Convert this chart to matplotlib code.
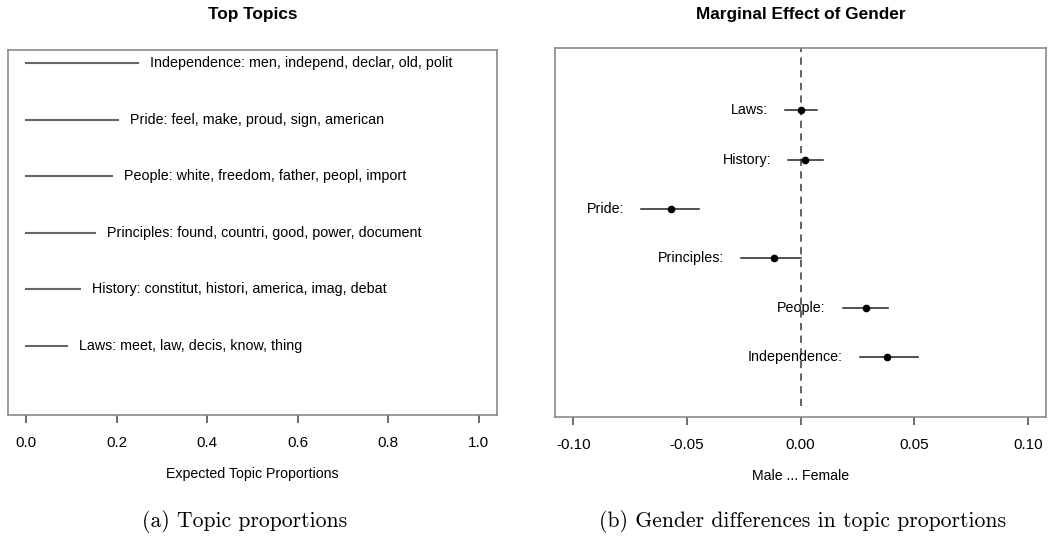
import matplotlib.pyplot as plt

plt.rcParams['font.family'] = ['Liberation Sans', 'DejaVu Sans']

# expected topic proportions, bottom row first
topics = ['Laws', 'History', 'Principles', 'People', 'Pride', 'Independence']
top_words = ['meet, law, decis, know, thing',
             'constitut, histori, america, imag, debat',
             'found, countri, good, power, document',
             'white, freedom, father, peopl, import',
             'feel, make, proud, sign, american',
             'men, independ, declar, old, polit']
proportions = [0.090, 0.119, 0.152, 0.190, 0.203, 0.247]

# gender effect (female - male), top row first
effect_topics = ['Laws', 'History', 'Pride', 'Principles', 'People', 'Independence']
effect = [0.000, 0.002, -0.057, -0.0117, 0.0288, 0.038]
ci_low = [-0.007, -0.0055, -0.070, -0.026, 0.0187, 0.026]
ci_high = [0.0073, 0.0098, -0.0446, 0.000, 0.0385, 0.0517]

box_col = '#8a8a8a'

fig = plt.figure(figsize=(10.5, 5.42), dpi=100)
ax1 = fig.add_axes([0.0076, 0.2343, 0.4657, 0.6734])
ax2 = fig.add_axes([0.5286, 0.2306, 0.4676, 0.6808])

# left: topic proportions
for i, (t, w, p) in enumerate(zip(topics, top_words, proportions)):
    y = i + 1
    ax1.plot([0, p], [y, y], color='#666666', lw=1.5)
    ax1.text(p + 0.027, y, f'{t}: {w}', fontsize=10.3, va='center', ha='left')
ax1.set_xlim(-0.04, 1.04)
ax1.set_ylim(-0.22, 6.23)
ax1.set_yticks([])
ax1.set_xticks([0, 0.2, 0.4, 0.6, 0.8, 1.0])
ax1.set_xticklabels(['0.0', '0.2', '0.4', '0.6', '0.8', '1.0'])
ax1.set_xlabel('Expected Topic Proportions', fontsize=10.2, labelpad=12)
ax1.set_title('Top Topics', fontsize=12.4, fontweight='bold', pad=22)

# right: marginal effect with confidence intervals
n = len(effect_topics)
ys = [n + 1 - i for i in range(n)]
ax2.plot([0, 0], [1, 10], color='#555555', lw=1.3, ls=(0, (4, 3)))
for t, y, e, lo, hi in zip(effect_topics, ys, effect, ci_low, ci_high):
    ax2.plot([lo, hi], [y, y], color='#222222', lw=1.1)
    ax2.plot(e, y, 'o', color='black', ms=4.5)
    ax2.text(lo - 0.0075, y, f'{t}:', fontsize=10.3, va='center', ha='right')
ax2.set_xlim(-0.108, 0.108)
ax2.set_ylim(0.78, 8.26)
ax2.set_yticks([])
ax2.set_xticks([-0.10, -0.05, 0.0, 0.05, 0.10])
ax2.set_xticklabels(['-0.10', '-0.05', '0.00', '0.05', '0.10'])
ax2.set_xlabel('Male ... Female', fontsize=10.2, labelpad=12)
ax2.set_title('Marginal Effect of Gender', fontsize=12.4, fontweight='bold', pad=21)

for ax in (ax1, ax2):
    for s in ax.spines.values():
        s.set_color(box_col)
        s.set_linewidth(1.2)
    ax.tick_params(axis='x', direction='out', length=6, width=1.2, color='#555555',
                   labelsize=11, pad=9)

# sub-figure captions
fig.text(0.2333, 0.028, '(a) Topic proportions', family='cmr10', fontsize=15.6,
         ha='center', va='baseline')
fig.text(0.7643, 0.028, '(b) Gender differences in topic proportions', family='cmr10',
         fontsize=15.6, ha='center', va='baseline')

fig.savefig('out.png', dpi=100)
